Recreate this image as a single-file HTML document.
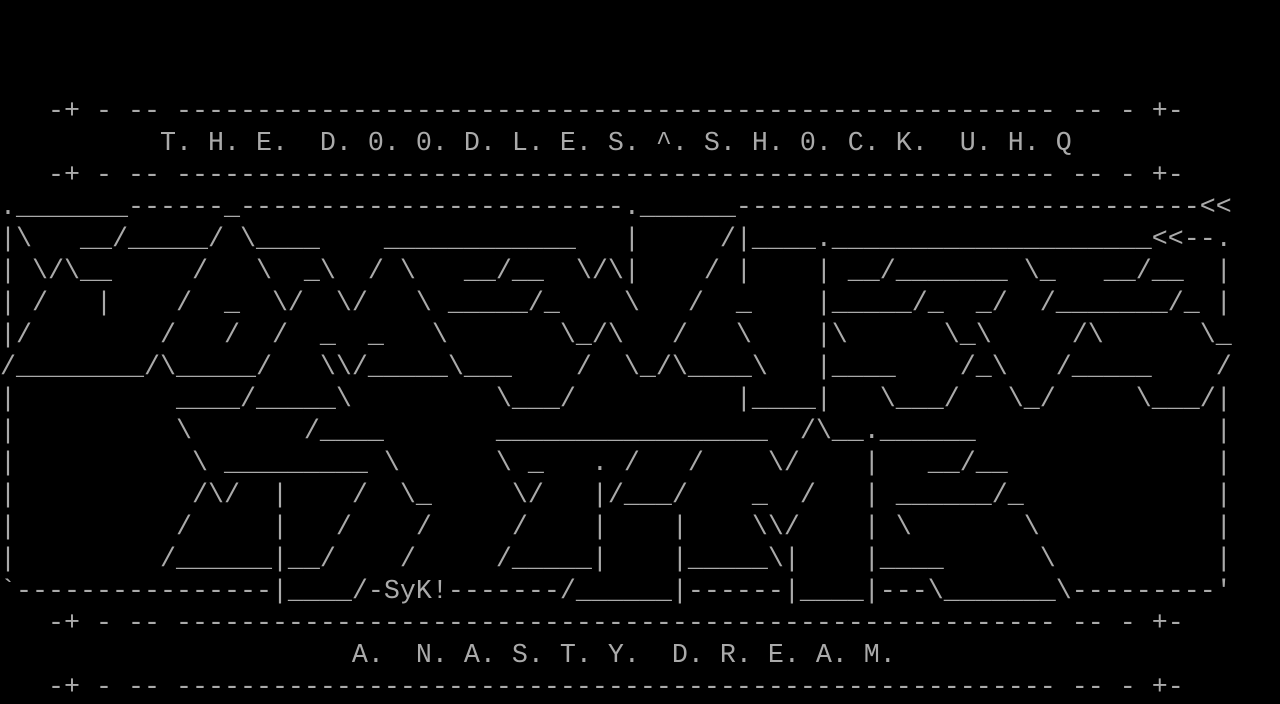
<!DOCTYPE html>
<html><head><meta charset="utf-8">
<style>
html,body{margin:0;padding:0;background:#000;width:1280px;height:704px;overflow:hidden}
.r{position:absolute;left:0;height:32px;line-height:32px;white-space:pre;font-family:"Liberation Mono",monospace;font-size:26.66px;color:#aaa;letter-spacing:0}
</style></head><body>
<div class="r" style="top:96px">   -+ - -- ------------------------------------------------------- -- - +-</div>
<div class="r" style="top:128px">          T. H. E.  D. 0. 0. D. L. E. S. ^. S. H. 0. C. K.  U. H. Q</div>
<div class="r" style="top:160px">   -+ - -- ------------------------------------------------------- -- - +-</div>
<div class="r" style="top:192px">._______------_------------------------.______-----------------------------&lt;&lt;</div>
<div class="r" style="top:224px">|\   __/_____/ \____    ____________   |     /|____.____________________&lt;&lt;--.</div>
<div class="r" style="top:256px">| \/\__     /   \  _\  / \   __/__  \/\|    / |    | __/_______ \_   __/__  |</div>
<div class="r" style="top:288px">| /   |    /  _  \/  \/   \ _____/_    \   /  _    |_____/_  _/  /_______/_ |</div>
<div class="r" style="top:320px">|/        /   /  /  _  _   \       \_/\   /   \    |\      \_\     /\      \_</div>
<div class="r" style="top:352px">/________/\_____/   \\/_____\___    /  \_/\____\   |____    /_\   /_____    /</div>
<div class="r" style="top:384px">|          ____/_____\         \___/          |____|   \___/   \_/     \___/|</div>
<div class="r" style="top:416px">|          \       /____       _________________  /\__.______               |</div>
<div class="r" style="top:448px">|           \ _________ \      \ _   . /   /    \/    |   __/__             |</div>
<div class="r" style="top:480px">|           /\/  |    /  \_     \/   |/___/    _  /   | ______/_            |</div>
<div class="r" style="top:512px">|          /     |   /    /     /    |    |    \\/    | \       \           |</div>
<div class="r" style="top:544px">|         /______|__/    /     /_____|    |_____\|    |____      \          |</div>
<div class="r" style="top:576px">`----------------|____/-SyK!-------/______|------|____|---\_______\---------'</div>
<div class="r" style="top:608px">   -+ - -- ------------------------------------------------------- -- - +-</div>
<div class="r" style="top:640px">                      A.  N. A. S. T. Y.  D. R. E. A. M.</div>
<div class="r" style="top:672px">   -+ - -- ------------------------------------------------------- -- - +-</div>
</body></html>
